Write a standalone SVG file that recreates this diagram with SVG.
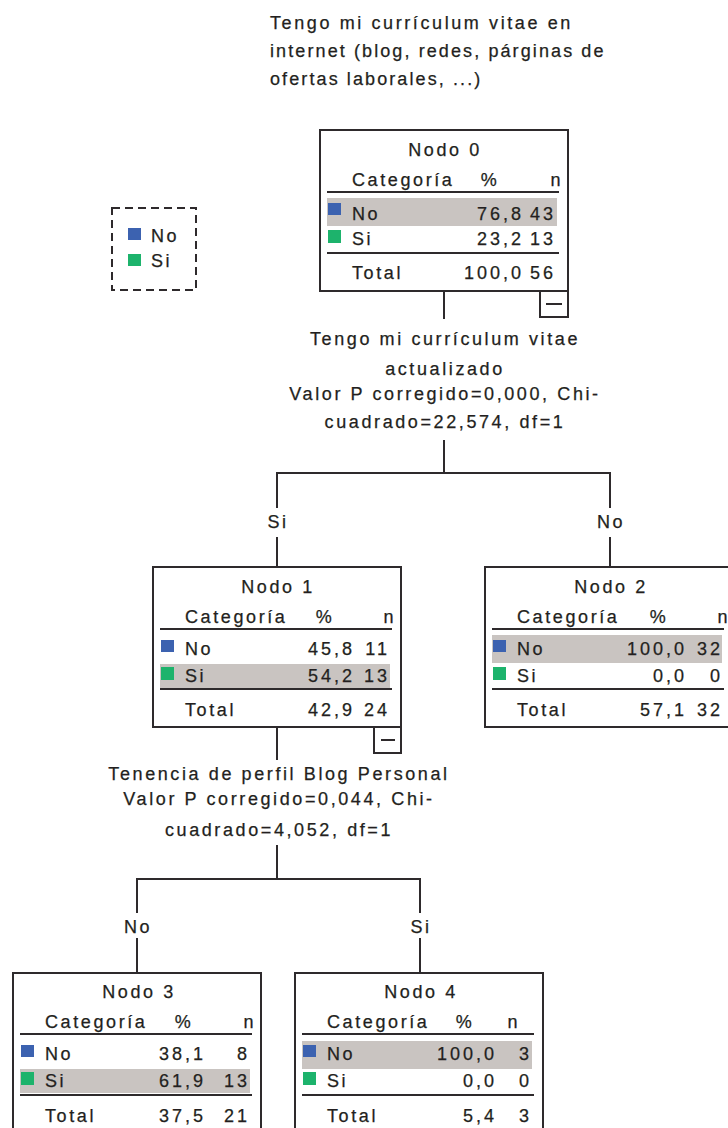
<svg xmlns="http://www.w3.org/2000/svg" width="728" height="1128" viewBox="0 0 728 1128">
<style>
text{font-family:"Liberation Sans",Arial,sans-serif;font-size:18px;fill:#231f20;stroke:#231f20;stroke-width:0.25;letter-spacing:2.6px}
.num{letter-spacing:3px}
.tight{letter-spacing:2.1px}
.mid{text-anchor:middle}
.end{text-anchor:end}
.box{fill:#fff;stroke:#2e2a2c;stroke-width:2}
.rule{stroke:#2e2a2c;stroke-width:2}
.hl{fill:#c9c4c1}
.blue{fill:#3c62b0}
.green{fill:#1db36c}
.conn line{stroke:#2e2a2c;stroke-width:2}
</style>

<g id="title">
<text x="270" y="29">Tengo mi currículum vitae en</text>
<text class="tight" x="270" y="57">internet (blog, redes, párginas de</text>
<text class="tight" x="270" y="85">ofertas laborales, ...)</text>
</g>

<g id="legend">
<rect x="112" y="208" width="84" height="82" fill="none" stroke="#2e2a2c" stroke-width="2" stroke-dasharray="8,5"/>
<rect class="blue" x="128" y="228" width="13" height="12"/>
<text x="151" y="242">No</text>
<rect class="green" x="128" y="254" width="13" height="12"/>
<text x="151" y="267">Si</text>
</g>

<g class="conn" id="connectors">
<line x1="444" y1="291" x2="444" y2="319"/>
<line x1="444" y1="440" x2="444" y2="474"/>
<line x1="276" y1="473" x2="611" y2="473"/>
<line x1="277" y1="473" x2="277" y2="508"/>
<line x1="277" y1="537" x2="277" y2="567"/>
<line x1="610" y1="473" x2="610" y2="508"/>
<line x1="610" y1="537" x2="610" y2="567"/>
<line x1="277" y1="727" x2="277" y2="760"/>
<line x1="277" y1="845" x2="277" y2="880"/>
<line x1="136" y1="879" x2="421" y2="879"/>
<line x1="137" y1="879" x2="137" y2="913"/>
<line x1="137" y1="938" x2="137" y2="973"/>
<line x1="420" y1="879" x2="420" y2="913"/>
<line x1="420" y1="938" x2="420" y2="973"/>
</g>

<g id="split0">
<text class="mid" x="445" y="345">Tengo mi currículum vitae</text>
<text class="mid" x="445" y="375">actualizado</text>
<text class="mid" x="445" y="400">Valor P corregido=0,000, Chi-</text>
<text class="mid" x="445" y="428">cuadrado=22,574, df=1</text>
<text class="mid" x="278" y="528">Si</text>
<text class="mid" x="611" y="528">No</text>
</g>

<g id="split1">
<text class="mid" x="279" y="780">Tenencia de perfil Blog Personal</text>
<text class="mid" x="279" y="805">Valor P corregido=0,044, Chi-</text>
<text class="mid" x="279" y="836">cuadrado=4,052, df=1</text>
<text class="mid" x="138" y="933">No</text>
<text class="mid" x="421" y="933">Si</text>
</g>

<g id="node0">
<rect class="box" x="320" y="130" width="248" height="161"/>
<rect class="hl" x="327" y="198" width="230" height="28"/>
<text class="mid" x="445" y="156">Nodo 0</text>
<text x="352" y="186">Categoría</text>
<text class="mid" x="490" y="186">%</text>
<text class="end" x="563" y="186">n</text>
<line class="rule" x1="327" y1="192" x2="559" y2="192"/>
<rect class="blue" x="328" y="203" width="13" height="12"/>
<text x="352" y="220">No</text>
<text class="end num" x="524" y="220">76,8</text>
<text class="end num" x="556" y="220">43</text>
<rect class="green" x="328" y="230" width="13" height="13"/>
<text x="352" y="245">Si</text>
<text class="end num" x="524" y="245">23,2</text>
<text class="end num" x="556" y="245">13</text>
<line class="rule" x1="327" y1="253" x2="559" y2="253"/>
<text x="352" y="279">Total</text>
<text class="end num" x="524" y="279">100,0</text>
<text class="end num" x="556" y="279">56</text>
<rect class="box" x="540" y="291" width="28" height="26"/>
<line class="rule" x1="546" y1="304" x2="562" y2="304"/>
</g>

<g id="node1">
<rect class="box" x="153" y="567" width="248" height="160"/>
<rect class="hl" x="160" y="664" width="230" height="24"/>
<text class="mid" x="278" y="593">Nodo 1</text>
<text x="185" y="623">Categoría</text>
<text class="mid" x="325" y="623">%</text>
<text class="end" x="396" y="623">n</text>
<line class="rule" x1="160" y1="629" x2="392" y2="629"/>
<rect class="blue" x="161" y="640" width="13" height="12"/>
<text x="185" y="655">No</text>
<text class="end num" x="355" y="655">45,8</text>
<text class="end num" x="390" y="655">11</text>
<rect class="green" x="161" y="667" width="13" height="13"/>
<text x="185" y="682">Si</text>
<text class="end num" x="355" y="682">54,2</text>
<text class="end num" x="390" y="682">13</text>
<line class="rule" x1="160" y1="689" x2="392" y2="689"/>
<text x="185" y="716">Total</text>
<text class="end num" x="355" y="716">42,9</text>
<text class="end num" x="390" y="716">24</text>
<rect class="box" x="374" y="727" width="27" height="26"/>
<line class="rule" x1="381" y1="740" x2="395" y2="740"/>
</g>

<g id="node2">
<rect class="box" x="485" y="567" width="248" height="160"/>
<rect class="hl" x="492" y="635" width="230" height="28"/>
<text class="mid" x="611" y="593">Nodo 2</text>
<text x="517" y="623">Categoría</text>
<text class="mid" x="659" y="623">%</text>
<text class="end" x="730" y="623">n</text>
<line class="rule" x1="492" y1="629" x2="724" y2="629"/>
<rect class="blue" x="493" y="640" width="13" height="12"/>
<text x="517" y="655">No</text>
<text class="end num" x="687" y="655">100,0</text>
<text class="end num" x="723" y="655">32</text>
<rect class="green" x="493" y="667" width="13" height="13"/>
<text x="517" y="682">Si</text>
<text class="end num" x="687" y="682">0,0</text>
<text class="end num" x="723" y="682">0</text>
<line class="rule" x1="492" y1="689" x2="724" y2="689"/>
<text x="517" y="716">Total</text>
<text class="end num" x="687" y="716">57,1</text>
<text class="end num" x="723" y="716">32</text>
</g>

<g id="node3">
<rect class="box" x="13" y="973" width="248" height="200"/>
<rect class="hl" x="20" y="1069" width="230" height="24"/>
<text class="mid" x="139" y="998">Nodo 3</text>
<text x="45" y="1028">Categoría</text>
<text class="mid" x="184" y="1028">%</text>
<text class="end" x="256" y="1028">n</text>
<line class="rule" x1="20" y1="1034" x2="252" y2="1034"/>
<rect class="blue" x="21" y="1045" width="13" height="12"/>
<text x="45" y="1060">No</text>
<text class="end num" x="206" y="1060">38,1</text>
<text class="end num" x="250" y="1060">8</text>
<rect class="green" x="21" y="1072" width="13" height="13"/>
<text x="45" y="1087">Si</text>
<text class="end num" x="206" y="1087">61,9</text>
<text class="end num" x="250" y="1087">13</text>
<line class="rule" x1="20" y1="1095" x2="252" y2="1095"/>
<text x="45" y="1122">Total</text>
<text class="end num" x="206" y="1122">37,5</text>
<text class="end num" x="250" y="1122">21</text>
</g>

<g id="node4">
<rect class="box" x="295" y="973" width="248" height="200"/>
<rect class="hl" x="302" y="1041" width="230" height="28"/>
<text class="mid" x="421" y="998">Nodo 4</text>
<text x="327" y="1028">Categoría</text>
<text class="mid" x="465" y="1028">%</text>
<text class="end" x="520" y="1028">n</text>
<line class="rule" x1="302" y1="1034" x2="534" y2="1034"/>
<rect class="blue" x="303" y="1045" width="13" height="12"/>
<text x="327" y="1060">No</text>
<text class="end num" x="497" y="1060">100,0</text>
<text class="end num" x="532" y="1060">3</text>
<rect class="green" x="303" y="1072" width="13" height="13"/>
<text x="327" y="1087">Si</text>
<text class="end num" x="497" y="1087">0,0</text>
<text class="end num" x="532" y="1087">0</text>
<line class="rule" x1="302" y1="1095" x2="534" y2="1095"/>
<text x="327" y="1122">Total</text>
<text class="end num" x="497" y="1122">5,4</text>
<text class="end num" x="532" y="1122">3</text>
</g>
</svg>
